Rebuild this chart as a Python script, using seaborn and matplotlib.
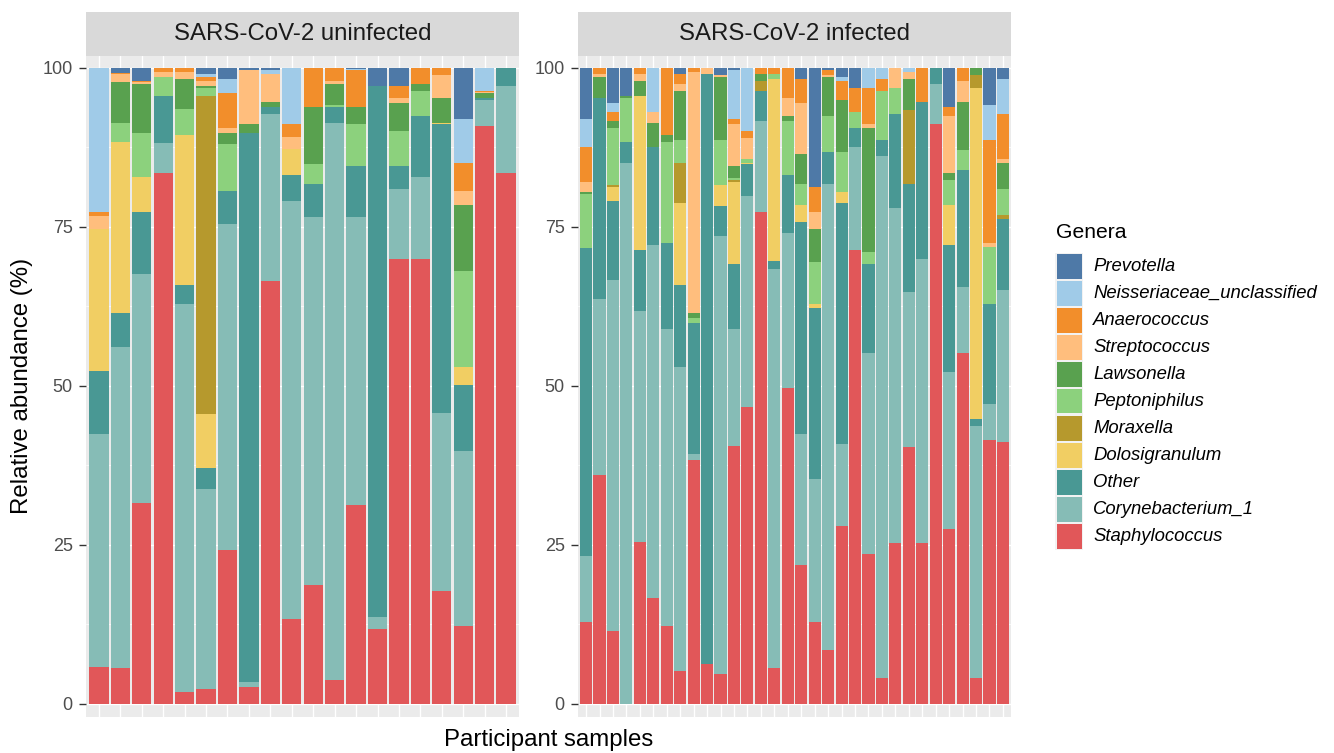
import numpy as np
import pandas as pd
import matplotlib
matplotlib.use("Agg")
import matplotlib.pyplot as plt
import seaborn as sns
from matplotlib.patches import Rectangle

# ---------------- data ----------------
genera = ["Prevotella", "Neisseriaceae_unclassified", "Anaerococcus", "Streptococcus",
          "Lawsonella", "Peptoniphilus", "Moraxella", "Dolosigranulum", "Other",
          "Corynebacterium_1", "Staphylococcus"]
genus_colors = ["#4E79A7", "#A0CBE8", "#F28E2B", "#FFBE7D", "#59A14F", "#8CD17D",
                "#B6992D", "#F1CE63", "#499894", "#86BCB6", "#E15759"]
panels = ["SARS-CoV-2 uninfected", "SARS-CoV-2 infected"]

# uninfected (20 samples)
un_staph = [5.8, 5.6, 31.5, 83.5, 1.8, 2.3, 24.1, 2.7, 66.4, 13.3, 18.6, 3.8, 31.3, 11.7, 69.9, 70.0, 17.65, 12.3, 90.9, 83.5]
un_coryne = [36.6, 50.5, 36.0, 4.6, 61.0, 31.4, 51.3, 0.65, 26.4, 65.8, 57.9, 87.6, 45.3, 2.0, 11.0, 12.8, 28.0, 27.4, 4.0, 13.7]
un_other = [10.0, 5.3, 9.8, 7.4, 3.1, 3.3, 5.2, 86.35, 1.0, 4.0, 5.2, 2.4, 8.0, 83.5, 3.7, 9.7, 45.5, 10.4, 0.4, 2.8]
un_dolo = [22.3, 26.9, 5.6, 0, 23.5, 8.5, 0, 0, 0, 4.1, 0, 0, 0, 0, 0, 0, 0.15, 2.9, 0, 0]
un_morax = [0, 0, 0, 0, 0, 50.0, 0, 0, 0, 0, 0, 0, 0, 0, 0, 0, 0, 0, 0, 0]
un_pepto = [0, 3.1, 6.9, 3.1, 4.2, 1.4, 7.35, 0, 0, 0, 3.1, 0.4, 6.5, 0, 5.4, 3.8, 0, 15.0, 0, 0]
un_lawso = [0, 6.3, 7.7, 0, 4.7, 0.3, 1.75, 1.4, 0.9, 0, 9.1, 3.3, 2.7, 0, 4.5, 1.2, 3.9, 10.5, 0.7, 0]
un_strep = [2.0, 1.3, 0.2, 0.8, 1.0, 0.8, 0.8, 8.6, 4.4, 2.0, 0, 0.5, 0, 0, 0.7, 0, 3.6, 2.2, 0.2, 0]
un_anaero = [0.6, 0.25, 0.2, 0.6, 0.7, 0.5, 5.6, 0, 0, 1.9, 6.1, 2.0, 5.8, 0, 2.0, 2.5, 1.2, 4.4, 0.2, 0]
un_neiss = [22.7, 0, 0, 0, 0, 0.6, 2.1, 0, 0.6, 8.9, 0, 0, 0.2, 0, 0, 0, 0, 6.8, 3.6, 0]
un_prevo = [0, 0.8, 2.1, 0, 0, 0.9, 1.8, 0.3, 0.3, 0, 0, 0, 0.2, 2.8, 2.8, 0, 0, 8.1, 0, 0]

# infected (32 samples)
in_staph = [12.8, 35.9, 11.4, 0, 25.4, 16.55, 12.15, 5.2, 38.4, 6.2, 4.6, 40.6, 46.7, 77.4, 5.55, 49.6,
            21.8, 12.9, 8.4, 27.9, 71.4, 23.5, 4.0, 25.2, 40.3, 25.2, 91.1, 27.4, 55.1, 4.0, 41.4, 41.2]
in_coryne = [10.5, 27.8, 55.2, 85.1, 36.3, 55.55, 46.75, 47.8, 0.8, 0, 69.0, 18.4, 33.1, 14.3, 62.85, 24.5,
             20.6, 22.4, 73.3, 13.0, 16.2, 31.7, 82.1, 52.8, 24.4, 44.7, 6.3, 24.7, 10.5, 39.75, 5.8, 23.8]
in_other = [48.3, 31.6, 12.4, 3.2, 9.6, 15.4, 13.6, 12.9, 20.6, 92.8, 4.6, 10.1, 5.0, 4.6, 1.15, 9.1,
            33.4, 27.0, 5.1, 37.8, 2.9, 14.0, 2.6, 14.7, 17.0, 24.8, 2.6, 20.1, 18.3, 0.95, 15.6, 11.2]
in_dolo = [0, 0, 2.3, 0, 24.2, 0, 0, 12.9, 0, 0, 3.3, 13.0, 0.3, 0, 28.65, 0,
           2.7, 0.5, 0, 1.7, 0, 0, 0, 0, 0, 0, 0, 6.2, 0, 52.2, 0, 0]
in_morax = [0, 0, 0.2, 0, 0, 0, 0, 6.2, 0, 0, 0, 0.2, 0, 1.7, 0, 0,
            0, 0, 0, 0, 0, 0, 0, 0, 11.7, 0, 0, 0, 0, 2.05, 0, 0.6]
in_pepto = [8.5, 0, 9.0, 6.9, 0, 0, 15.9, 3.6, 0.9, 0, 7.2, 0.3, 0.6, 0, 0.8, 8.4,
            3.2, 6.7, 5.7, 6.4, 2.6, 1.9, 7.6, 4.05, 0, 0, 0, 4.0, 3.1, 0, 9.1, 4.1]
in_lawso = [0.3, 3.3, 1.1, 0.4, 2.5, 3.9, 1.1, 7.7, 0.8, 0, 9.9, 1.9, 0, 1.0, 0, 0.9,
            4.7, 5.1, 6.1, 8.2, 0, 19.4, 0, 0, 4.9, 0, 0, 1.1, 7.7, 1.05, 0, 4.1]
in_strep = [1.6, 0.5, 0, 0, 1.1, 1.6, 0, 1.1, 37.9, 1.0, 0.35, 6.7, 3.3, 0, 0, 2.8,
            8.0, 2.7, 0.2, 0, 0, 0.6, 0, 3.25, 1.1, 0, 0, 9.0, 3.3, 0, 0.5, 0.6]
in_anaero = [5.6, 0.9, 1.4, 0, 0.9, 0, 10.5, 1.6, 0.6, 0, 0, 0.8, 1.0, 1.0, 1.0, 4.7,
             3.9, 4.0, 0.8, 2.9, 3.8, 5.8, 1.9, 0, 0, 5.3, 0, 1.3, 2.0, 0, 16.2, 7.2]
in_neiss = [4.3, 0, 1.5, 0, 0, 7.0, 0, 0, 0, 0, 0, 7.7, 10.0, 0, 0, 0,
            0, 0, 0, 0.7, 0, 3.1, 1.8, 0, 0.6, 0, 0, 0, 0, 0, 5.6, 5.4]
in_prevo = [8.1, 0, 5.5, 4.4, 0, 0, 0, 1.0, 0, 0, 1.05, 0.3, 0, 0, 0, 0,
            1.7, 18.7, 0.4, 1.4, 3.1, 0, 0, 0, 0, 0, 0, 6.2, 0, 0, 5.8, 1.8]

uninfected = dict(zip(genera, [un_prevo, un_neiss, un_anaero, un_strep, un_lawso, un_pepto,
                               un_morax, un_dolo, un_other, un_coryne, un_staph]))
infected = dict(zip(genera, [in_prevo, in_neiss, in_anaero, in_strep, in_lawso, in_pepto,
                             in_morax, in_dolo, in_other, in_coryne, in_staph]))

rows = []
for panel, table in zip(panels, [uninfected, infected]):
    for g in genera:
        for i, v in enumerate(table[g]):
            rows.append((panel, i, g, v))
df = pd.DataFrame(rows, columns=["panel", "sample", "genus", "value"])
palette = dict(zip(genera, genus_colors))

# ---------------- figure ----------------
sns.set_theme(style="darkgrid")
plt.rcParams["font.family"] = ["Liberation Sans", "DejaVu Sans"]

W, H = 1334, 753
fig = plt.figure(figsize=(W / 100, H / 100), dpi=100)
fig.patch.set_facecolor("white")


def px_axes(x0, y0, x1, y1):
    return fig.add_axes([x0 / W, 1 - y1 / H, (x1 - x0) / W, (y1 - y0) / H])


panel_x = [(86, 519), (578, 1011)]
panel_top, panel_bot = 56, 716.7
strip_top = 12

for (x0, x1), panel in zip(panel_x, panels):
    ax = px_axes(x0, panel_top, x1, panel_bot)
    ax.set_facecolor("#EBEBEB")
    d = df[df["panel"] == panel]
    n = d["sample"].nunique()
    sns.histplot(data=d, x="sample", weights="value", hue="genus", hue_order=genera,
                 palette=palette, multiple="stack", discrete=True, shrink=0.9,
                 linewidth=0, alpha=1, legend=False, ax=ax)
    ax.set_xlim(-0.6, n - 0.4)
    ax.set_ylim(-2.04, 101.86)
    ax.set_xticks(range(n))
    ax.set_xticklabels([])
    ax.set_yticks([0, 25, 50, 75, 100])
    ax.set_yticklabels(["0", "25", "50", "75", "100"])
    ax.set_yticks([12.5, 37.5, 62.5, 87.5], minor=True)
    ax.set_axisbelow(True)
    ax.grid(which="major", color="white", linewidth=1.0)
    ax.grid(which="minor", axis="y", color="white", linewidth=0.5)
    ax.tick_params(axis="x", length=0)
    ax.tick_params(axis="y", which="minor", length=0, left=False)
    ax.tick_params(axis="y", which="major", length=4.8, width=1.0, color="#333333",
                   labelsize=13, labelcolor="#4D4D4D", pad=4.7, left=True)
    for s in ax.spines.values():
        s.set_visible(False)
    ax.set_xlabel("")
    ax.set_ylabel("")

    # facet strip
    sax = px_axes(x0, strip_top, x1, panel_top)
    sax.set_facecolor("#D9D9D9")
    sax.set_xticks([])
    sax.set_yticks([])
    sax.grid(False)
    for s in sax.spines.values():
        s.set_visible(False)
    sax.text(0.5, 0.5, panel, ha="center", va="center", fontsize=17.3,
             color="#1A1A1A", transform=sax.transAxes)

# axis titles
fig.text(22 / W, 1 - 386 / H, "Relative abundance (%)", rotation=90, ha="center",
         va="center", fontsize=17.3, color="black")
fig.text(548.5 / W, 1 - 740 / H, "Participant samples", ha="center", va="center",
         fontsize=17.3, color="black")

# legend
fig.text(1056 / W, 1 - 233 / H, "Genera", ha="left", va="center", fontsize=15.2, color="black")
key_x0, key_w, key_h, key_step, key_top = 1056.5, 25, 24.5, 27, 254
fig.patches.append(Rectangle(((key_x0 - 1.5) / W, 1 - (key_top - 1.5 + key_step * len(genera)) / H),
                             (key_w + 3) / W, (key_step * len(genera)) / H,
                             transform=fig.transFigure, facecolor="#F2F2F2", edgecolor="none",
                             zorder=0))
for i, (g, c) in enumerate(zip(genera, genus_colors)):
    yt = key_top + i * key_step
    fig.patches.append(Rectangle((key_x0 / W, 1 - (yt + key_h) / H), key_w / W, key_h / H,
                                 transform=fig.transFigure, facecolor=c, edgecolor="none",
                                 zorder=1))
    fig.text(1093 / W, 1 - (yt + key_h / 2) / H, g, ha="left", va="center",
             fontsize=13.3, style="italic", color="black")

fig.savefig("out.png", dpi=100)
